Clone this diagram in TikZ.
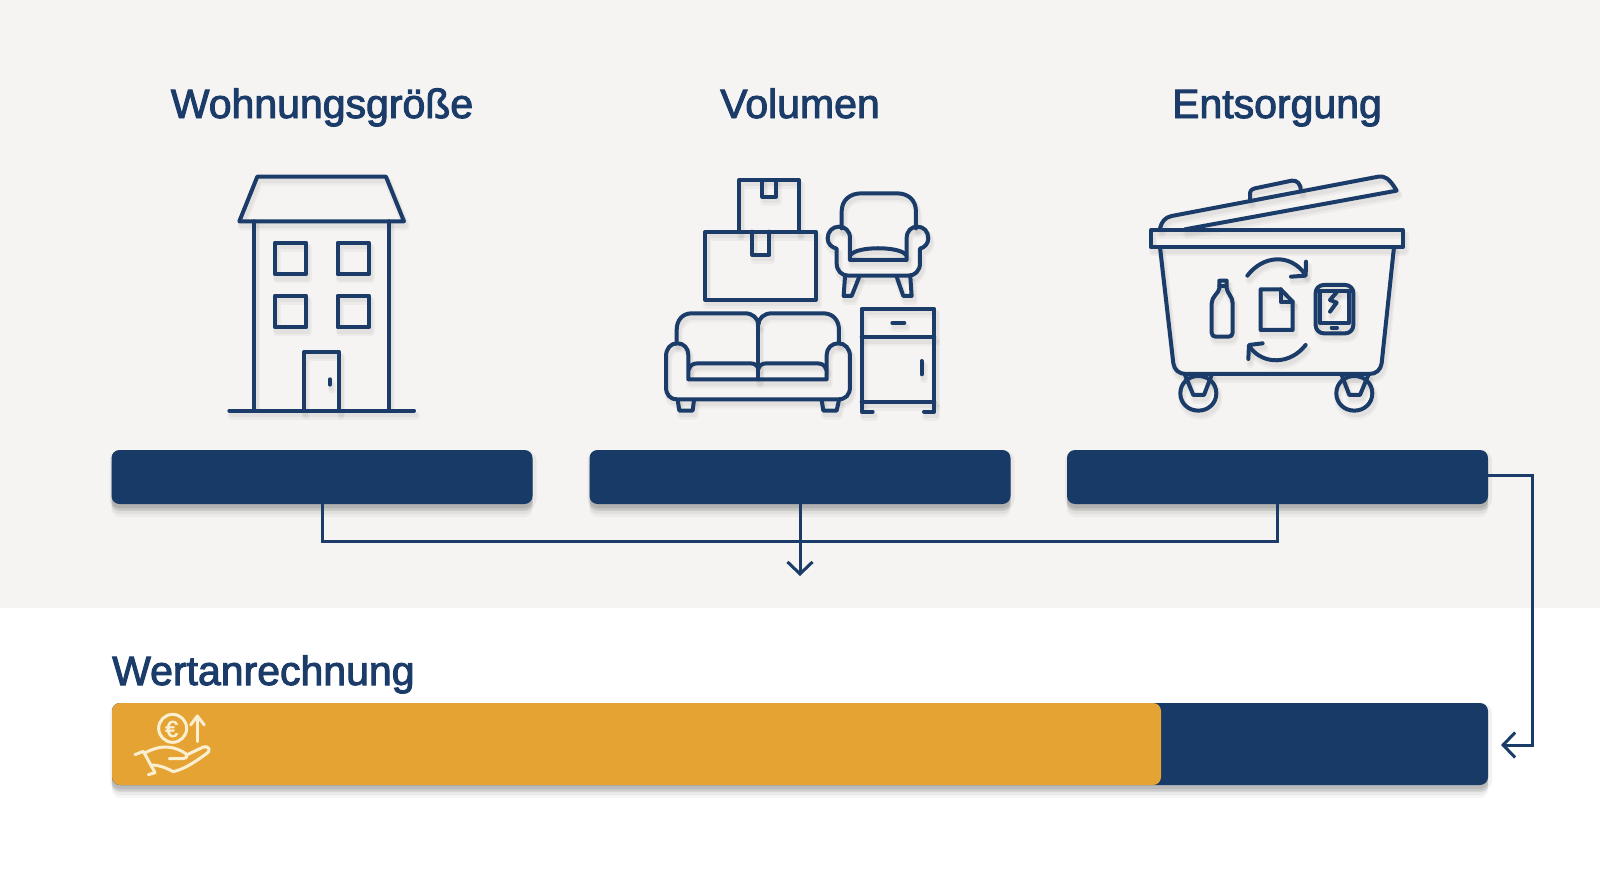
\documentclass[tikz,border=0pt]{standalone}
\usepackage{fontspec}
\setmainfont{Liberation Sans}[FakeBold=2.4]
\usetikzlibrary{arrows.meta}
\definecolor{navy}{HTML}{173A66}
\definecolor{inkc}{HTML}{1B3C68}
\definecolor{gold}{HTML}{E5A333}
\definecolor{paper}{HTML}{F5F4F2}
\definecolor{cream}{HTML}{FBEFD2}
\tikzset{
  softshadow/.style={
    preaction={fill=black,fill opacity=.035,transform canvas={yshift=-13pt}},
    preaction={fill=black,fill opacity=.05,transform canvas={yshift=-10pt}},
    preaction={fill=black,fill opacity=.07,transform canvas={yshift=-7pt}},
    preaction={fill=black,fill opacity=.09,transform canvas={yshift=-4pt}},
    preaction={draw=black,draw opacity=.05,line width=6pt,fill=none,transform canvas={xshift=1pt,yshift=-3pt}}},
  bar/.style={rectangle,rounded corners=8pt,fill=navy,inner sep=0pt,softshadow},
  title/.style={anchor=base,inner sep=0pt,text=inkc,font=\fontsize{41}{47}\selectfont},
  wire/.style={draw=inkc,line width=3pt},
  tip/.style={-{Straight Barb[length=12pt,width=25pt,line width=3pt]}},
  iconline/.style={draw=inkc,line width=4pt,line join=round,line cap=round},
  iconshade/.style={draw=black,draw opacity=.035,line width=8pt,line join=round,line cap=round},
  iconshadeb/.style={draw=black,draw opacity=.04,line width=5pt,line join=round,line cap=round},
  ic/.style={iconline},
  handline/.style={draw=cream,line width=3pt,line join=round,line cap=round}
}
\newcommand\shaded[1]{%
  \begin{scope}[xshift=2pt,yshift=-5pt,ic/.style={iconshade}]#1\end{scope}
  \begin{scope}[xshift=2pt,yshift=-4pt,ic/.style={iconshadeb}]#1\end{scope}
  \begin{scope}#1\end{scope}}
\newcommand\houseicon{%
\begin{scope}[shift={(200,150)},scale=.3333]
  \path[ic] (172,80) -- (558,80) -- (612,214) -- (118,214) -- cycle;
  \path[ic] (163,214) -- (163,782) (566,214) -- (566,782) (88,782) -- (642,782);
  \path[ic] (225,278) rectangle (318,373) (413,278) rectangle (506,373);
  \path[ic] (225,437) rectangle (318,532) (413,437) rectangle (506,532);
  \path[ic] (312,782) -- (312,607) -- (418,607) -- (418,782);
  \path[ic] (390,688) -- (390,704);
\end{scope}}
\newcommand\goodsicon{%
\begin{scope}[shift={(640,160)},scale=.3333]
  \path[ic] (297,215) -- (297,60) -- (477,60) -- (477,215);
  \path[ic] (367,60) -- (367,110) -- (408,110) -- (408,60);
  \path[ic] (196,215) rectangle (527,420);
  \path[ic] (337,215) -- (337,285) -- (388,285) -- (388,215);
  % armchair
  \path[ic] (605,205) -- (605,155) .. controls (605,120) and (630,100) .. (665,100) -- (770,100) .. controls (805,100) and (828,120) .. (828,155) -- (828,205);
  \path[ic] (630,300) -- (630,235) .. controls (630,212) and (615,200) .. (597,200) .. controls (577,200) and (563,215) .. (563,235) .. controls (563,252) and (575,262) .. (590,266) -- (590,310) .. controls (590,332) and (605,347) .. (625,347) -- (805,347) .. controls (825,347) and (840,332) .. (840,310) -- (840,266) .. controls (855,262) and (865,250) .. (865,235) .. controls (865,215) and (852,200) .. (832,200) .. controls (815,200) and (800,212) .. (800,235) -- (800,300) -- cycle;
  \path[ic] (632,285) .. controls (650,258) and (780,258) .. (798,285);
  \path[ic] (615,350) -- (611,408) -- (635,408) -- (658,350);
  \path[ic] (770,350) -- (790,408) -- (815,408) -- (811,350);
  % sofa
  \path[ic] (110,550) -- (110,510) .. controls (110,480) and (128,460) .. (155,460) -- (315,460) .. controls (338,460) and (355,475) .. (355,495) .. controls (355,475) and (372,460) .. (395,460) -- (550,460) .. controls (578,460) and (597,480) .. (597,510) -- (597,550);
  \path[ic] (355,495) -- (355,658);
  \path[ic] (145,658) -- (145,585) .. controls (145,565) and (132,550) .. (112,550) .. controls (92,550) and (78,565) .. (78,590) -- (78,680) .. controls (78,705) and (90,718) .. (112,718) -- (595,718) .. controls (617,718) and (630,705) .. (630,680) -- (630,590) .. controls (630,565) and (615,550) .. (595,550) .. controls (575,550) and (560,565) .. (560,585) -- (560,658) -- cycle;
  \path[ic] (147,628) .. controls (150,615) and (160,610) .. (175,610) -- (330,610) .. controls (345,610) and (353,617) .. (355,628) .. controls (357,617) and (365,610) .. (380,610) -- (530,610) .. controls (545,610) and (555,615) .. (558,628);
  \path[ic] (113,720) -- (118,752) -- (158,752) -- (162,720);
  \path[ic] (545,720) -- (550,752) -- (590,752) -- (597,720);
  % cabinet
  \path[ic] (698,755) -- (665,755) -- (665,447) -- (883,447) -- (883,755) -- (852,755);
  \path[ic] (665,532) -- (883,532) (665,725) -- (883,725);
  \path[ic] (757,489) -- (793,489);
  \path[ic] (845,603) -- (845,643);
\end{scope}}
\newcommand\binicon{%
\begin{scope}[shift={(1110,160)},scale=.3333]
  \path[ic] (123,210) rectangle (878,262);
  \path[ic] (150,205) .. controls (155,185) and (165,172) .. (185,168) -- (805,50) .. controls (825,47) and (838,55) .. (860,92) -- (225,208);
  \path[ic] (420,120) -- (420,102) .. controls (420,92) and (425,88) .. (435,85) -- (545,62) .. controls (562,60) and (572,72) .. (573,92);
  \path[ic] (150,262) -- (190,610) .. controls (193,630) and (207,642) .. (228,642) -- (778,642) .. controls (798,642) and (812,630) .. (815,610) -- (852,262);
  \path[ic] (211,700) .. controls (211,670) and (235,648) .. (265,648) .. controls (295,648) and (319,670) .. (319,700) .. controls (319,730) and (295,752) .. (265,752) .. controls (235,752) and (211,730) .. (211,700) -- cycle;
  \path[ic] (679,700) .. controls (679,670) and (703,648) .. (733,648) .. controls (763,648) and (787,670) .. (787,700) .. controls (787,730) and (763,752) .. (733,752) .. controls (703,752) and (679,730) .. (679,700) -- cycle;
  \path[ic] (225,645) -- (250,705) -- (282,705) -- (305,645);
  \path[ic] (695,645) -- (718,705) -- (750,705) -- (775,645);
  \path[ic] (412,347) .. controls (460,285) and (540,280) .. (585,342);
  \path[ic] (588,305) -- (587,347) -- (543,350);
  \path[ic] (587,555) .. controls (540,615) and (460,615) .. (420,562);
  \path[ic] (415,597) -- (417,555) -- (458,550);
  % bottle
  \path[ic] (328,362) -- (350,362) -- (350,385) .. controls (352,400) and (368,410) .. (368,430) -- (368,518) .. controls (368,526) and (363,530) .. (356,530) -- (317,530) .. controls (310,530) and (305,526) .. (305,518) -- (305,430) .. controls (305,410) and (326,400) .. (328,385) -- cycle;
  \path[ic] (328,378) -- (350,378);
  % document
  \path[ic] (452,388) -- (512,388) -- (548,425) -- (548,510) -- (452,510) -- cycle;
  \path[ic] (512,388) -- (512,425) -- (548,425);
  % tablet
  \path[ic,rounded corners=8pt] (617,375) rectangle (730,520);
  \path[ic] (630,392) rectangle (716,490);
  \path[ic] (680,397) -- (660,420) -- (680,428) -- (660,455);
  \path[ic] (665,503) -- (681,503);
\end{scope}}
\begin{document}
\begin{tikzpicture}[x=1pt,y=-1pt]
\useasboundingbox (0,0) rectangle (1600,872);
\fill[white] (0,0) rectangle (1600,872);
\fill[paper] (0,0) rectangle (1600,608);

\node[title] (t1) at (322,118) {Wohnungsgröße};
\node[title] (t2) at (800,118) {Volumen};
\node[title] (t3) at (1277,118) {Entsorgung};
\node[title,anchor=base west] (t4) at (112,685) {Wertanrechnung};

\shaded{\houseicon}
\shaded{\goodsicon}
\shaded{\binicon}

\coordinate (bus) at (800,541);
\coordinate (down) at (800,576);
\coordinate (turn) at (1532,475);
\coordinate (inlet) at (1501,745);

\node[bar,minimum width=421pt,minimum height=54pt] (b1) at (322,477) {};
\node[bar,minimum width=421pt,minimum height=54pt] (b2) at (800,477) {};
\node[bar,minimum width=421pt,minimum height=54pt] (b3) at (1277.5,477) {};
\node[bar,minimum width=1376pt,minimum height=82pt] (b4) at (800,744) {};
\node[rectangle,rounded corners=8pt,fill=gold,inner sep=0pt,minimum width=1049pt,minimum height=82pt,anchor=west] (b5) at (b4.west) {};

\draw[wire] (b1.south) |- (bus);
\draw[wire] (b3.south) |- (bus);
\draw[wire,tip] (b2.south) -- (down);
\draw[wire] (b1.south |- bus) -- (b3.south |- bus);
\draw[wire,tip] (b3.east |- turn) -- (turn) -- (turn |- inlet) -- (inlet);

% hand and coin
\begin{scope}[shift={(100,630)},scale=.3333]
  \path[handline] (176,295) .. controls (176,272) and (195,253) .. (218,253) .. controls (241,253) and (260,272) .. (260,295) .. controls (260,318) and (241,337) .. (218,337) .. controls (195,337) and (176,318) .. (176,295) -- cycle;
  \path[handline] (292,335) -- (292,258);
  \path[handline] (272,285) -- (292,258) -- (313,285);
  \path[handline] (132,370) .. controls (170,350) and (205,342) .. (248,365) .. controls (265,372) and (265,385) .. (248,386) -- (208,386);
  \path[handline] (262,374) -- (308,352) .. controls (328,345) and (335,362) .. (318,372) .. controls (280,400) and (250,418) .. (220,425) .. controls (195,412) and (175,405) .. (157,405);
  \path[handline] (105,374) -- (130,364) -- (165,428) -- (145,434);
  \node[inner sep=0pt,text=cream] (euro) at (215,297) {\fontsize{23}{23}\selectfont €};
\end{scope}
\end{tikzpicture}
\end{document}
